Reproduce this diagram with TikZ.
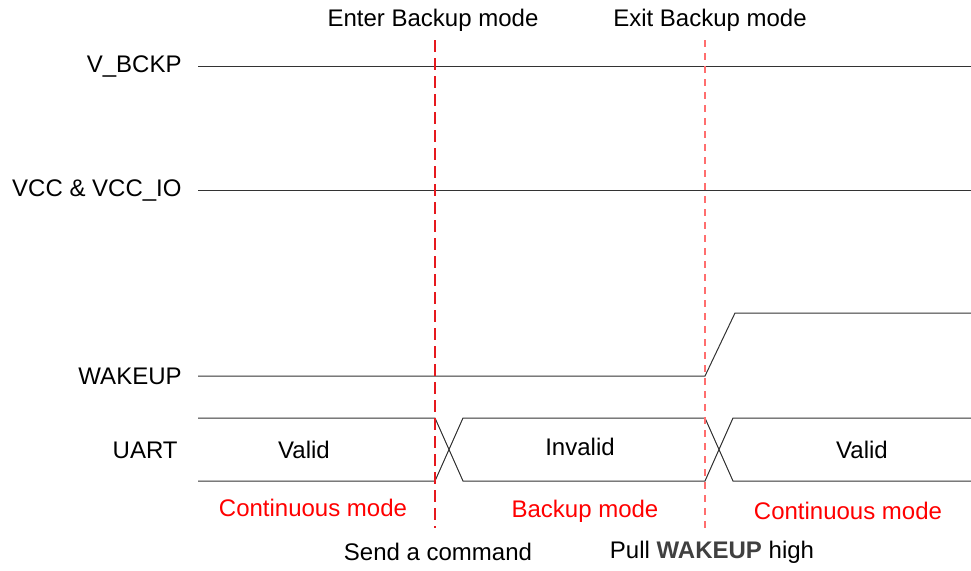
\documentclass[tikz,border=0pt]{standalone}
\usepackage{fontspec}
\setmainfont{Liberation Sans}
\definecolor{modered}{RGB}{255,0,0}
\definecolor{cmdred}{RGB}{230,25,30}
\definecolor{wakered}{RGB}{255,110,110}
\definecolor{boldgray}{RGB}{64,64,64}
\tikzset{
  sig/.style={line width=0.5pt, black!80},
  enterline/.style={draw=cmdred, line width=0.7pt, dash pattern=on 6pt off 3pt},
  exitline/.style={draw=wakered, line width=0.7pt, dash pattern=on 3.5pt off 3pt},
  siglabel/.style={left, inner sep=0pt, font=\fontsize{12}{14}\selectfont},
  txt/.style={inner sep=0pt, font=\fontsize{12}{14}\selectfont},
  modetxt/.style={txt, text=modered}
}
\begin{document}
\begin{tikzpicture}[x=0.5pt, y=-0.5pt]
    \useasboundingbox (0,0) rectangle (971,570);
    % signal lines
    \draw[sig] (198,66)--(971,66);  \node[siglabel] (vbckp) at (182,66) {V\_BCKP};
    \draw[sig] (198,190)--(971,190); \node[siglabel] (vcc) at (182,190) {VCC \& VCC\_IO};
    \draw[sig] (198,376)--(705,376)--(735,313)--(971,313); \node[siglabel] (wakeup) at (182,376) {WAKEUP};
    \node[siglabel] (uart) at (178,450) {UART};
    \draw[sig] (198,418)--(435,418)--(463,481)--(705,481)--(733,418)--(971,418);
    \draw[sig] (198,481)--(435,481)--(463,418)--(705,418)--(733,481)--(971,481);
    % event markers
    \draw[enterline] (435,40)--(435,528);
    \draw[exitline] (705,40)--(705,528);
    \node[txt] (enter) at (433,20) {Enter Backup mode};
    \node[txt] (exit) at (710,20) {Exit Backup mode};
    \node[txt] (send) at (438,552) {Send a command};
    \node[txt] (pull) at (712,552) {Pull \textbf{\textcolor{boldgray}{WAKEUP}} high};
    % data and modes
    \node[txt] (valida) at (304,450) {Valid};
    \node[txt] (invalid) at (580,447) {Invalid};
    \node[txt] (validb) at (862,450) {Valid};
    \node[modetxt] (conta) at (313,508) {Continuous mode};
    \node[modetxt] (backup) at (585,511) {Backup mode};
    \node[modetxt] (contb) at (848,511) {Continuous mode};
  \end{tikzpicture}
\end{document}
